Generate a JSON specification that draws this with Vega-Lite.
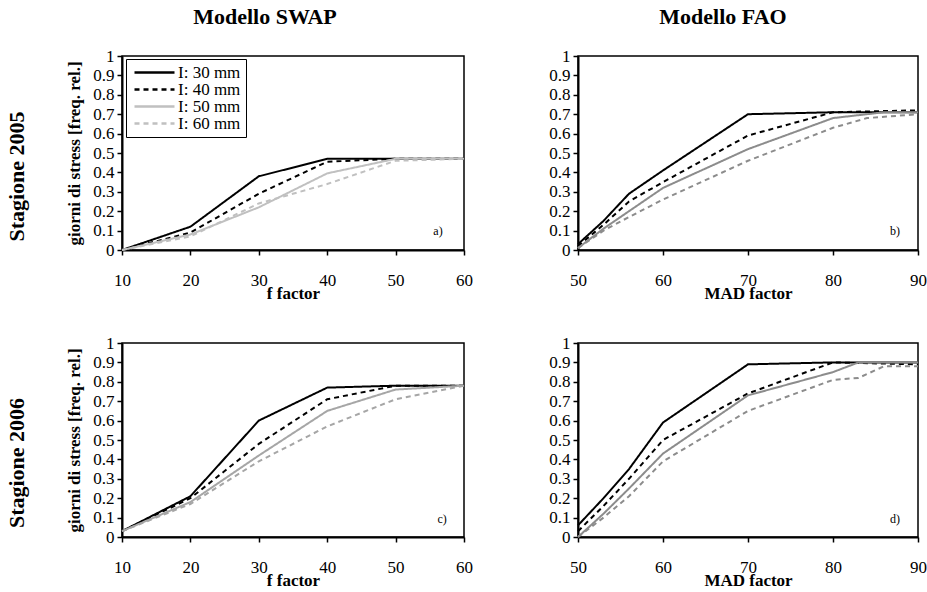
{
  "$schema": "https://vega.github.io/schema/vega-lite/v6.json",
  "padding": {"left": 6, "top": 5, "right": 0, "bottom": 5},
  "background": "white",
  "datasets": {
    "lines": [
      {"p":"a","s":"I: 30 mm","x":10,"y":0},{"p":"a","s":"I: 30 mm","x":20,"y":0.12},{"p":"a","s":"I: 30 mm","x":30,"y":0.38},{"p":"a","s":"I: 30 mm","x":40,"y":0.47},{"p":"a","s":"I: 30 mm","x":50,"y":0.47},{"p":"a","s":"I: 30 mm","x":60,"y":0.47},
      {"p":"a","s":"I: 40 mm","x":10,"y":0},{"p":"a","s":"I: 40 mm","x":20,"y":0.09},{"p":"a","s":"I: 40 mm","x":30,"y":0.29},{"p":"a","s":"I: 40 mm","x":40,"y":0.455},{"p":"a","s":"I: 40 mm","x":50,"y":0.47},{"p":"a","s":"I: 40 mm","x":60,"y":0.47},
      {"p":"a","s":"I: 50 mm","x":10,"y":0},{"p":"a","s":"I: 50 mm","x":20,"y":0.08},{"p":"a","s":"I: 50 mm","x":30,"y":0.22},{"p":"a","s":"I: 50 mm","x":40,"y":0.395},{"p":"a","s":"I: 50 mm","x":50,"y":0.47},{"p":"a","s":"I: 50 mm","x":60,"y":0.47},
      {"p":"a","s":"I: 60 mm","x":10,"y":0},{"p":"a","s":"I: 60 mm","x":20,"y":0.07},{"p":"a","s":"I: 60 mm","x":30,"y":0.24},{"p":"a","s":"I: 60 mm","x":40,"y":0.34},{"p":"a","s":"I: 60 mm","x":50,"y":0.46},{"p":"a","s":"I: 60 mm","x":60,"y":0.47},

      {"p":"b","s":"I: 30 mm","x":50,"y":0.03},{"p":"b","s":"I: 30 mm","x":53,"y":0.15},{"p":"b","s":"I: 30 mm","x":56,"y":0.29},{"p":"b","s":"I: 30 mm","x":60,"y":0.41},{"p":"b","s":"I: 30 mm","x":70,"y":0.70},{"p":"b","s":"I: 30 mm","x":80,"y":0.71},{"p":"b","s":"I: 30 mm","x":90,"y":0.71},
      {"p":"b","s":"I: 40 mm","x":50,"y":0.02},{"p":"b","s":"I: 40 mm","x":53,"y":0.13},{"p":"b","s":"I: 40 mm","x":56,"y":0.25},{"p":"b","s":"I: 40 mm","x":60,"y":0.35},{"p":"b","s":"I: 40 mm","x":70,"y":0.59},{"p":"b","s":"I: 40 mm","x":80,"y":0.71},{"p":"b","s":"I: 40 mm","x":90,"y":0.72},
      {"p":"b","s":"I: 50 mm","x":50,"y":0.01},{"p":"b","s":"I: 50 mm","x":53,"y":0.11},{"p":"b","s":"I: 50 mm","x":56,"y":0.20},{"p":"b","s":"I: 50 mm","x":60,"y":0.32},{"p":"b","s":"I: 50 mm","x":70,"y":0.52},{"p":"b","s":"I: 50 mm","x":80,"y":0.68},{"p":"b","s":"I: 50 mm","x":86,"y":0.71},{"p":"b","s":"I: 50 mm","x":90,"y":0.71},
      {"p":"b","s":"I: 60 mm","x":50,"y":0.01},{"p":"b","s":"I: 60 mm","x":53,"y":0.10},{"p":"b","s":"I: 60 mm","x":56,"y":0.17},{"p":"b","s":"I: 60 mm","x":60,"y":0.26},{"p":"b","s":"I: 60 mm","x":70,"y":0.46},{"p":"b","s":"I: 60 mm","x":80,"y":0.63},{"p":"b","s":"I: 60 mm","x":84,"y":0.68},{"p":"b","s":"I: 60 mm","x":90,"y":0.70},

      {"p":"c","s":"I: 30 mm","x":10,"y":0.03},{"p":"c","s":"I: 30 mm","x":20,"y":0.21},{"p":"c","s":"I: 30 mm","x":30,"y":0.60},{"p":"c","s":"I: 30 mm","x":40,"y":0.77},{"p":"c","s":"I: 30 mm","x":50,"y":0.78},{"p":"c","s":"I: 30 mm","x":60,"y":0.78},
      {"p":"c","s":"I: 40 mm","x":10,"y":0.03},{"p":"c","s":"I: 40 mm","x":20,"y":0.20},{"p":"c","s":"I: 40 mm","x":30,"y":0.48},{"p":"c","s":"I: 40 mm","x":40,"y":0.71},{"p":"c","s":"I: 40 mm","x":50,"y":0.78},{"p":"c","s":"I: 40 mm","x":60,"y":0.78},
      {"p":"c","s":"I: 50 mm","x":10,"y":0.03},{"p":"c","s":"I: 50 mm","x":20,"y":0.18},{"p":"c","s":"I: 50 mm","x":30,"y":0.42},{"p":"c","s":"I: 50 mm","x":40,"y":0.65},{"p":"c","s":"I: 50 mm","x":50,"y":0.76},{"p":"c","s":"I: 50 mm","x":60,"y":0.78},
      {"p":"c","s":"I: 60 mm","x":10,"y":0.03},{"p":"c","s":"I: 60 mm","x":20,"y":0.17},{"p":"c","s":"I: 60 mm","x":30,"y":0.39},{"p":"c","s":"I: 60 mm","x":40,"y":0.57},{"p":"c","s":"I: 60 mm","x":50,"y":0.71},{"p":"c","s":"I: 60 mm","x":60,"y":0.78},

      {"p":"d","s":"I: 30 mm","x":50,"y":0.06},{"p":"d","s":"I: 30 mm","x":53,"y":0.2},{"p":"d","s":"I: 30 mm","x":56,"y":0.35},{"p":"d","s":"I: 30 mm","x":60,"y":0.59},{"p":"d","s":"I: 30 mm","x":70,"y":0.89},{"p":"d","s":"I: 30 mm","x":80,"y":0.90},{"p":"d","s":"I: 30 mm","x":90,"y":0.90},
      {"p":"d","s":"I: 40 mm","x":50,"y":0.03},{"p":"d","s":"I: 40 mm","x":53,"y":0.16},{"p":"d","s":"I: 40 mm","x":56,"y":0.30},{"p":"d","s":"I: 40 mm","x":60,"y":0.50},{"p":"d","s":"I: 40 mm","x":70,"y":0.74},{"p":"d","s":"I: 40 mm","x":80,"y":0.90},{"p":"d","s":"I: 40 mm","x":90,"y":0.89},
      {"p":"d","s":"I: 50 mm","x":50,"y":0.0},{"p":"d","s":"I: 50 mm","x":53,"y":0.12},{"p":"d","s":"I: 50 mm","x":56,"y":0.25},{"p":"d","s":"I: 50 mm","x":60,"y":0.43},{"p":"d","s":"I: 50 mm","x":70,"y":0.73},{"p":"d","s":"I: 50 mm","x":80,"y":0.85},{"p":"d","s":"I: 50 mm","x":83,"y":0.90},{"p":"d","s":"I: 50 mm","x":90,"y":0.90},
      {"p":"d","s":"I: 60 mm","x":50,"y":0.0},{"p":"d","s":"I: 60 mm","x":53,"y":0.10},{"p":"d","s":"I: 60 mm","x":56,"y":0.21},{"p":"d","s":"I: 60 mm","x":60,"y":0.39},{"p":"d","s":"I: 60 mm","x":70,"y":0.65},{"p":"d","s":"I: 60 mm","x":80,"y":0.81},{"p":"d","s":"I: 60 mm","x":83,"y":0.82},{"p":"d","s":"I: 60 mm","x":86,"y":0.88},{"p":"d","s":"I: 60 mm","x":90,"y":0.88}
    ],
    "labels": [
      {"p":"a","t":"a)","x":56.2,"y":0.1},
      {"p":"b","t":"b)","x":87.3,"y":0.1},
      {"p":"c","t":"c)","x":56.8,"y":0.095},
      {"p":"d","t":"d)","x":87.3,"y":0.095}
    ]
  },
  "spacing": 31,
  "resolve": {"scale": {"color": "independent", "strokeDash": "independent"}, "legend": {"color": "independent", "strokeDash": "independent"}},
  "vconcat": [
    {
      "bounds": "flush",
      "spacing": 114,
      "title": {"text": "Stagione 2005", "orient": "left", "offset": 36, "dx": -23, "frame": "bounds", "anchor": "middle"},
      "resolve": {"scale": {"color": "independent", "strokeDash": "independent"}, "legend": {"color": "independent", "strokeDash": "independent"}},
      "hconcat": [
        {
          "width": 342, "height": 194,
          "title": {"text": "Modello SWAP", "dx": -28, "offset": 18, "frame": "group", "anchor": "middle"},
          "encoding": {
            "x": {"field": "x", "type": "quantitative", "scale": {"domain": [10, 60], "nice": false, "zero": false}, "axis": {"values": [10, 20, 30, 40, 50, 60], "title": "f factor", "format": "d", "labelOverlap": false, "labelFlush": false}},
            "y": {"field": "y", "type": "quantitative", "scale": {"domain": [0, 1], "nice": false}, "axis": {"values": [0, 0.1, 0.2, 0.3, 0.4, 0.5, 0.6, 0.7, 0.8, 0.9, 1], "title": "giorni di stress [freq. rel.]", "format": "~g", "labelOverlap": false, "labelFlush": false}}
          },
          "layer": [
            {
              "data": {"name": "lines"},
              "transform": [{"filter": "datum.p === 'a'"}],
              "mark": {"type": "line", "strokeWidth": 2},
              "encoding": {
                "color": {"field": "s", "type": "nominal", "scale": {"domain": ["I: 30 mm", "I: 40 mm", "I: 50 mm", "I: 60 mm"], "range": ["#000000", "#000000", "#c0c0c0", "#c0c0c0"]},
                  "legend": {"orient": "none", "legendX": 4, "legendY": 3, "title": null, "strokeColor": "black", "fillColor": "white", "padding": 5, "symbolType": "M-4,0H4", "symbolSize": 100, "symbolStrokeWidth": 2.5, "labelFont": "Liberation Serif", "labelFontSize": 17, "labelColor": "black", "rowPadding": -3, "labelOffset": 15, "symbolOffset": 15, "cornerRadius": 0}},
                "strokeDash": {"field": "s", "type": "nominal", "scale": {"domain": ["I: 30 mm", "I: 40 mm", "I: 50 mm", "I: 60 mm"], "range": [[1, 0], [5, 4], [1, 0], [5, 4]]}}
              }
            },
            {
              "data": {"name": "labels"},
              "transform": [{"filter": "datum.p === 'a'"}],
              "mark": {"type": "text", "fontSize": 12, "font": "Liberation Serif", "color": "black"},
              "encoding": {"text": {"field": "t"}}
            }
          ]
        },
        {
          "width": 340, "height": 194,
          "title": {"text": "Modello FAO", "dx": -25, "offset": 18, "frame": "group", "anchor": "middle"},
          "encoding": {
            "x": {"field": "x", "type": "quantitative", "scale": {"domain": [50, 90], "nice": false, "zero": false}, "axis": {"values": [50, 60, 70, 80, 90], "title": "MAD factor", "format": "d", "labelOverlap": false, "labelFlush": false}},
            "y": {"field": "y", "type": "quantitative", "scale": {"domain": [0, 1], "nice": false}, "axis": {"values": [0, 0.1, 0.2, 0.3, 0.4, 0.5, 0.6, 0.7, 0.8, 0.9, 1], "title": null, "format": "~g", "labelOverlap": false, "labelFlush": false}}
          },
          "layer": [
            {
              "data": {"name": "lines"},
              "transform": [{"filter": "datum.p === 'b'"}],
              "mark": {"type": "line", "strokeWidth": 2},
              "encoding": {
                "color": {"field": "s", "type": "nominal", "scale": {"domain": ["I: 30 mm", "I: 40 mm", "I: 50 mm", "I: 60 mm"], "range": ["#000000", "#000000", "#8c8c8c", "#8c8c8c"]}, "legend": null},
                "strokeDash": {"field": "s", "type": "nominal", "scale": {"domain": ["I: 30 mm", "I: 40 mm", "I: 50 mm", "I: 60 mm"], "range": [[1, 0], [5, 4], [1, 0], [5, 4]]}, "legend": null}
              }
            },
            {
              "data": {"name": "labels"},
              "transform": [{"filter": "datum.p === 'b'"}],
              "mark": {"type": "text", "fontSize": 12, "font": "Liberation Serif", "color": "black"},
              "encoding": {"text": {"field": "t"}}
            }
          ]
        }
      ]
    },
    {
      "bounds": "flush",
      "spacing": 114,
      "title": {"text": "Stagione 2006", "orient": "left", "offset": 36, "dx": -2, "frame": "bounds", "anchor": "middle"},
      "resolve": {"scale": {"color": "independent", "strokeDash": "independent"}, "legend": {"color": "independent", "strokeDash": "independent"}},
      "hconcat": [
        {
          "width": 342, "height": 194,
          "encoding": {
            "x": {"field": "x", "type": "quantitative", "scale": {"domain": [10, 60], "nice": false, "zero": false}, "axis": {"values": [10, 20, 30, 40, 50, 60], "title": "f factor", "format": "d", "labelOverlap": false, "labelFlush": false}},
            "y": {"field": "y", "type": "quantitative", "scale": {"domain": [0, 1], "nice": false}, "axis": {"values": [0, 0.1, 0.2, 0.3, 0.4, 0.5, 0.6, 0.7, 0.8, 0.9, 1], "title": "giorni di stress  [freq. rel.]", "format": "~g", "labelOverlap": false, "labelFlush": false}}
          },
          "layer": [
            {
              "data": {"name": "lines"},
              "transform": [{"filter": "datum.p === 'c'"}],
              "mark": {"type": "line", "strokeWidth": 2},
              "encoding": {
                "color": {"field": "s", "type": "nominal", "scale": {"domain": ["I: 30 mm", "I: 40 mm", "I: 50 mm", "I: 60 mm"], "range": ["#000000", "#000000", "#a6a6a6", "#a6a6a6"]}, "legend": null},
                "strokeDash": {"field": "s", "type": "nominal", "scale": {"domain": ["I: 30 mm", "I: 40 mm", "I: 50 mm", "I: 60 mm"], "range": [[1, 0], [5, 4], [1, 0], [5, 4]]}, "legend": null}
              }
            },
            {
              "data": {"name": "labels"},
              "transform": [{"filter": "datum.p === 'c'"}],
              "mark": {"type": "text", "fontSize": 12, "font": "Liberation Serif", "color": "black"},
              "encoding": {"text": {"field": "t"}}
            }
          ]
        },
        {
          "width": 340, "height": 194,
          "encoding": {
            "x": {"field": "x", "type": "quantitative", "scale": {"domain": [50, 90], "nice": false, "zero": false}, "axis": {"values": [50, 60, 70, 80, 90], "title": "MAD factor", "format": "d", "labelOverlap": false, "labelFlush": false}},
            "y": {"field": "y", "type": "quantitative", "scale": {"domain": [0, 1], "nice": false}, "axis": {"values": [0, 0.1, 0.2, 0.3, 0.4, 0.5, 0.6, 0.7, 0.8, 0.9, 1], "title": null, "format": "~g", "labelOverlap": false, "labelFlush": false}}
          },
          "layer": [
            {
              "data": {"name": "lines"},
              "transform": [{"filter": "datum.p === 'd'"}],
              "mark": {"type": "line", "strokeWidth": 2},
              "encoding": {
                "color": {"field": "s", "type": "nominal", "scale": {"domain": ["I: 30 mm", "I: 40 mm", "I: 50 mm", "I: 60 mm"], "range": ["#000000", "#000000", "#8c8c8c", "#8c8c8c"]}, "legend": null},
                "strokeDash": {"field": "s", "type": "nominal", "scale": {"domain": ["I: 30 mm", "I: 40 mm", "I: 50 mm", "I: 60 mm"], "range": [[1, 0], [5, 4], [1, 0], [5, 4]]}, "legend": null}
              }
            },
            {
              "data": {"name": "labels"},
              "transform": [{"filter": "datum.p === 'd'"}],
              "mark": {"type": "text", "fontSize": 12, "font": "Liberation Serif", "color": "black"},
              "encoding": {"text": {"field": "t"}}
            }
          ]
        }
      ]
    }
  ],
  "config": {
    "font": "Liberation Serif",
    "view": {"stroke": "black", "strokeWidth": 1.5},
    "axis": {"grid": false, "domainColor": "black", "domainWidth": 2, "tickColor": "black", "tickWidth": 1.5, "tickSize": 5, "labelColor": "black", "titleColor": "black", "labelFont": "Liberation Serif", "labelFontSize": 17, "titleFont": "Liberation Serif", "titleFontSize": 17, "titleFontWeight": "bold"},
    "axisX": {"labelPadding": 17, "titlePadding": -3},
    "axisY": {"labelPadding": 3, "titlePadding": 9},
    "title": {"font": "Liberation Serif", "fontSize": 22, "fontWeight": "bold", "color": "black"}
  }
}
